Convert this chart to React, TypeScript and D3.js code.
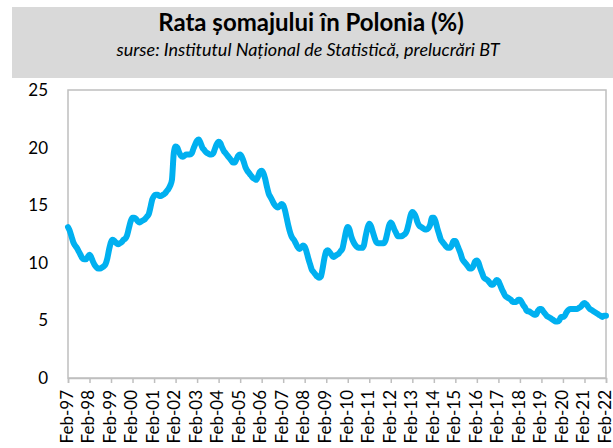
import { useEffect, useRef } from "react";
import * as d3 from "d3";

// Rata șomajului în Polonia, lunar, Feb-97 ... Feb-22.
const W = 613;
const H = 448;
const MARGIN = { top: 90, right: 7, bottom: 70, left: 68 };
const FONT = "Lato, 'Noto Sans', sans-serif";
const BLUE = "#00B0F0";

const TITLE = "Rata șomajului în Polonia (%)";
const SUBTITLE = "surse: Institutul Național de Statistică, prelucrări BT";

// 1997: feb-dec
const r1997 = [13.1, 12.8, 12.3, 11.8, 11.5, 11.3, 11.0, 10.7, 10.4, 10.3, 10.3];
const r1998 = [10.5, 10.7, 10.5, 10.1, 9.8, 9.6, 9.5, 9.5, 9.6, 9.7, 9.9, 10.4];
const r1999 = [11.2, 11.8, 12.0, 11.9, 11.7, 11.6, 11.7, 11.8, 12.0, 12.1, 12.4, 13.0];
const r2000 = [13.6, 13.9, 13.9, 13.8, 13.6, 13.5, 13.6, 13.7, 13.8, 14.0, 14.2, 14.8];
const r2001 = [15.5, 15.8, 15.9, 15.9, 15.8, 15.8, 15.9, 16.0, 16.2, 16.4, 16.7, 17.2];
const r2002 = [19.5, 20.1, 20.0, 19.6, 19.3, 19.2, 19.3, 19.4, 19.4, 19.4, 19.5, 19.9];
const r2003 = [20.3, 20.6, 20.7, 20.4, 20.0, 19.8, 19.6, 19.5, 19.4, 19.4, 19.5, 19.9];
const r2004 = [20.3, 20.5, 20.4, 20.0, 19.7, 19.5, 19.3, 19.1, 18.9, 18.7, 18.7, 19.0];
const r2005 = [19.3, 19.4, 19.2, 18.8, 18.3, 18.0, 17.8, 17.6, 17.4, 17.3, 17.2, 17.5];
const r2006 = [17.9, 18.0, 17.8, 17.3, 16.6, 16.0, 15.7, 15.4, 15.1, 14.9, 14.8, 14.9];
const r2007 = [15.1, 15.0, 14.6, 13.9, 13.2, 12.6, 12.2, 12.0, 11.7, 11.4, 11.2, 11.3];
const r2008 = [11.5, 11.4, 11.0, 10.4, 9.9, 9.4, 9.2, 9.0, 8.8, 8.7, 8.8, 9.5];
const r2009 = [10.4, 11.0, 11.1, 10.9, 10.7, 10.5, 10.6, 10.7, 10.8, 11.0, 11.2, 11.9];
const r2010 = [12.7, 13.1, 12.9, 12.3, 11.9, 11.6, 11.4, 11.3, 11.3, 11.3, 11.5, 12.3];
const r2011 = [13.0, 13.4, 13.2, 12.7, 12.2, 11.8, 11.7, 11.7, 11.7, 11.7, 11.9, 12.5];
const r2012 = [13.2, 13.5, 13.3, 12.9, 12.6, 12.3, 12.3, 12.3, 12.4, 12.5, 12.8, 13.4];
const r2013 = [14.1, 14.4, 14.3, 14.0, 13.5, 13.2, 13.1, 13.0, 12.9, 12.9, 13.0, 13.3];
const r2014 = [13.9, 13.9, 13.6, 13.0, 12.5, 12.0, 11.8, 11.6, 11.4, 11.3, 11.3, 11.5];
const r2015 = [11.9, 11.9, 11.6, 11.2, 10.8, 10.3, 10.1, 9.9, 9.7, 9.5, 9.5, 9.7];
const r2016 = [10.1, 10.2, 10.0, 9.5, 9.1, 8.7, 8.6, 8.5, 8.3, 8.1, 8.1, 8.3];
const r2017 = [8.5, 8.4, 8.1, 7.7, 7.4, 7.1, 7.0, 6.9, 6.8, 6.6, 6.6, 6.6];
const r2018 = [6.8, 6.8, 6.6, 6.3, 6.1, 5.8, 5.8, 5.7, 5.6, 5.5, 5.5, 5.8];
const r2019 = [6.0, 6.0, 5.8, 5.6, 5.4, 5.3, 5.2, 5.1, 5.0, 4.9, 4.9, 5.0];
const r2020 = [5.3, 5.3, 5.4, 5.7, 5.9, 6.0, 6.0, 6.0, 6.0, 6.0, 6.1, 6.2];
const r2021 = [6.4, 6.5, 6.4, 6.2, 6.0, 5.9, 5.8, 5.7, 5.6, 5.5, 5.4, 5.3];
// 2022: ian-feb
const r2022 = [5.4, 5.4];

const SERIES = [
  r1997, r1998, r1999, r2000, r2001, r2002, r2003, r2004, r2005, r2006,
  r2007, r2008, r2009, r2010, r2011, r2012, r2013, r2014, r2015, r2016,
  r2017, r2018, r2019, r2020, r2021, r2022,
];

const Y_TICKS = [0, 5, 10, 15, 20, 25];
const FIRST_YEAR = 1997;
const LAST_YEAR = 2022;

type Pt = { date: Date; value: number };

export default function App() {
  const svgRef = useRef<SVGSVGElement>(null);

  useEffect(() => {
    const svg = d3.select(svgRef.current);
    svg.selectAll("*").remove();

    const start = new Date(FIRST_YEAR, 1, 1);
    const points: Pt[] = SERIES.flat().map((v, i) => ({
      date: d3.timeMonth.offset(start, i),
      value: v,
    }));

    const x = d3
      .scaleTime()
      .domain([start, new Date(LAST_YEAR, 1, 1)])
      .range([MARGIN.left, W - MARGIN.right]);
    const y = d3
      .scaleLinear()
      .domain([0, 25])
      .range([H - MARGIN.bottom, MARGIN.top]);

    // Antet gri
    svg
      .append("rect")
      .attr("x", 12)
      .attr("y", 7)
      .attr("width", W - 12)
      .attr("height", 71)
      .attr("fill", "#D9D9D9");
    svg
      .append("text")
      .attr("x", 311)
      .attr("y", 31)
      .attr("text-anchor", "middle")
      .attr("font-family", FONT)
      .attr("font-weight", "bold")
      .attr("font-size", 24)
      .attr("fill", "#000")
      .text(TITLE);
    svg
      .append("text")
      .attr("x", 308)
      .attr("y", 56)
      .attr("text-anchor", "middle")
      .attr("font-family", FONT)
      .attr("font-style", "italic")
      .attr("font-size", 18)
      .attr("fill", "#000")
      .text(SUBTITLE);

    // Chenarul zonei de plotare
    svg
      .append("rect")
      .attr("x", x.range()[0])
      .attr("y", y(25))
      .attr("width", x.range()[1] - x.range()[0])
      .attr("height", y(0) - y(25))
      .attr("fill", "none")
      .attr("stroke", "#BFBFBF")
      .attr("stroke-width", 1.5);

    // Axa Y
    const gy = svg
      .append("g")
      .attr("transform", `translate(${MARGIN.left},0)`)
      .call(d3.axisLeft(y).tickValues(Y_TICKS).tickSize(0).tickPadding(20));
    gy.select(".domain").remove();
    gy.selectAll("text")
      .attr("font-family", FONT)
      .attr("font-size", 17)
      .attr("fill", "#000");

    // Axa X
    const tickDates = d3
      .range(FIRST_YEAR, LAST_YEAR + 1)
      .map((yr) => new Date(yr, 1, 1));
    const gx = svg
      .append("g")
      .attr("transform", `translate(0,${y(0)})`)
      .call(
        d3
          .axisBottom(x)
          .tickValues(tickDates)
          .tickSize(5)
          .tickFormat((d) => d3.timeFormat("%b-%y")(d as Date)),
      );
    gx.select(".domain").attr("stroke", "#BFBFBF").attr("stroke-width", 1.5);
    gx.selectAll(".tick line").attr("stroke", "#BFBFBF").attr("stroke-width", 1.5);
    gx.selectAll("text")
      .attr("font-family", FONT)
      .attr("font-size", 17)
      .attr("fill", "#000")
      .attr("text-anchor", "end")
      .attr("dy", "0.25em")
      .attr("transform", "translate(0,12) rotate(-90)")
      .attr("x", 0)
      .attr("y", 0);

    // Linia
    const line = d3
      .line<Pt>()
      .x((d) => x(d.date))
      .y((d) => y(d.value))
      .curve(d3.curveMonotoneX);
    svg
      .append("path")
      .datum(points)
      .attr("fill", "none")
      .attr("stroke", BLUE)
      .attr("stroke-width", 6)
      .attr("stroke-linejoin", "round")
      .attr("stroke-linecap", "round")
      .attr("d", line);
  }, []);

  return (
    <div style={{ position: "absolute", left: 0, top: 0, background: "#fff" }}>
      <svg ref={svgRef} width={W} height={H} style={{ display: "block" }} />
    </div>
  );
}
